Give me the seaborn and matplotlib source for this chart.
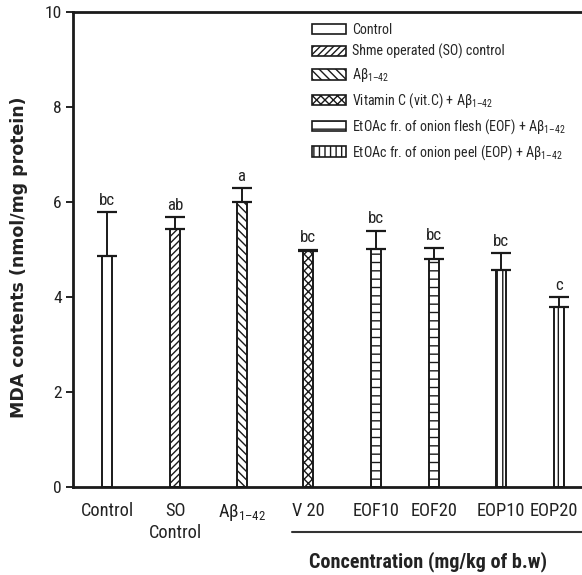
import matplotlib
matplotlib.use("Agg")
import matplotlib.pyplot as plt
import matplotlib.transforms as mtransforms
from matplotlib import font_manager
from matplotlib.lines import Line2D
from matplotlib.patches import Patch
import numpy as np
import pandas as pd
import seaborn as sns

# ---- data -------------------------------------------------------------
ab = "Aβ$_{1\u201342}$"
groups = ["Control", "SO\nControl", ab, "V 20",
          "EOF10", "EOF20", "EOP10", "EOP20"]
mda_mean = [4.87, 5.44, 5.99, 4.96, 5.01, 4.80, 4.57, 3.78]
mda_se = [0.92, 0.25, 0.30, 0.04, 0.39, 0.24, 0.35, 0.22]
sig_letters = ["bc", "ab", "a", "bc", "bc", "bc", "bc", "c"]
legend_labels = [
    "Control",
    "Shme operated (SO) control",
    ab,
    "Vitamin C (vit.C) + " + ab,
    "EtOAc fr. of onion flesh (EOF) + " + ab,
    "EtOAc fr. of onion peel (EOP) + " + ab,
]
y_ticks = [0, 2, 4, 6, 8, 10]

# ---- layout / style ---------------------------------------------------
bar_pos = [0.53, 1.58, 2.61, 3.64, 4.69, 5.59, 6.63, 7.53]
hatches = ["", "/////", "\\\\\\\\", "xxxx", "--", "|||"]
bar_style = [0, 1, 2, 3, 4, 4, 5, 5]

sns.set_theme(style="white")

# prefer a narrow sans face when one is installed
family, stretch, narrow_found = "Liberation Sans", "normal", False
preferred = ["Liberation Sans Narrow", "Roboto Condensed", "Open Sans Condensed",
             "Noto Sans Condensed", "DejaVu Sans Condensed"]
avail = {f.name for f in font_manager.fontManager.ttflist}
for name in preferred:
    if name in avail:
        family, narrow_found = name, True
        break
if not narrow_found:
    for f in font_manager.fontManager.ttflist:
        if f.stretch in ("condensed", "semi-condensed", "extra-condensed") \
                and f.name in ("Noto Sans", "Roboto", "Open Sans", "DejaVu Sans"):
            family, stretch, narrow_found = f.name, "condensed", True
            break

plt.rcParams["font.family"] = [family, "DejaVu Sans"]
plt.rcParams["font.stretch"] = stretch
plt.rcParams["mathtext.fontset"] = "custom"
plt.rcParams["mathtext.rm"] = family
plt.rcParams["mathtext.it"] = family
plt.rcParams["hatch.linewidth"] = 1.0
plt.rcParams["hatch.color"] = "#222222"

k = 1.15 if narrow_found else 1.0   # narrow faces can run a little larger
fs_tick = 11.5 * k
fs_leg = 8.8 * k
fs_sig = 10.5 * k
fs_conc = 12.6 * k

fig = plt.figure(figsize=(5.82, 5.75), dpi=100)
ax = fig.add_axes([73 / 582, 1 - 487 / 575, 1 - 73 / 582, (487 - 12) / 575])

df = pd.DataFrame({"pos": bar_pos, "mean": mda_mean})
min_gap = np.min(np.diff(bar_pos))
sns.barplot(data=df, x="pos", y="mean", native_scale=True, width=0.155 / min_gap,
            color="white", edgecolor="#1a1a1a", linewidth=1.4, errorbar=None,
            saturation=1, ax=ax)
for patch, s in zip(ax.patches, bar_style):
    patch.set_hatch(hatches[s])
    patch.set_facecolor("white")

ax.errorbar(bar_pos, mda_mean, yerr=[np.zeros(len(mda_se)), mda_se], fmt="none",
            ecolor="#1a1a1a", elinewidth=1.4, capsize=7, capthick=1.6, zorder=3)

for x, m, e, t in zip(bar_pos, mda_mean, mda_se, sig_letters):
    ax.annotate(t, (x, m + e), xytext=(0, 3), textcoords="offset points",
                ha="center", va="bottom", fontsize=fs_sig, color="#222222")

ax.set_xlim(0, 509 / 64.6)
ax.set_ylim(0, 10)
ax.set_yticks(y_ticks)
ax.set_yticklabels([str(v) for v in y_ticks], fontsize=fs_tick * 0.95)
ax.set_xticks(bar_pos)
ax.set_xticklabels(groups, fontsize=fs_tick, linespacing=1.3)
ax.tick_params(axis="x", length=0, pad=11, colors="#222222")
ax.tick_params(axis="y", direction="out", length=5, width=1.4, pad=3,
               colors="#222222", left=True)
# the last label sits against the right edge; nudge it inward a little
last = ax.get_xticklabels()[-1]
last.set_transform(last.get_transform() +
                   mtransforms.ScaledTranslation(-4 / 72, 0, fig.dpi_scale_trans))
ax.set_xlabel("")
ax.set_ylabel("")
for side in ["left", "bottom", "top"]:
    ax.spines[side].set_linewidth(2.0)
    ax.spines[side].set_color("#1a1a1a")
ax.spines["right"].set_visible(False)

fig.text(19 / 582, 1 - 257 / 575, "MDA contents (nmol/mg protein)", rotation=90,
         ha="center", va="center", fontsize=12.5, fontweight="bold",
         family="DejaVu Sans", color="#222222")

fig.add_artist(Line2D([292 / 582, 1.0], [1 - 532 / 575] * 2, color="#333333",
                      lw=1.5, transform=fig.transFigure))
fig.text(428 / 582, 1 - 562 / 575, "Concentration (mg/kg of b.w)", ha="center",
         va="center", fontsize=fs_conc, fontweight="bold", color="#222222")

handles = [Patch(facecolor="white", edgecolor="#1a1a1a", hatch=hatches[i], lw=1.2)
           for i in range(len(legend_labels))]
fig.legend(handles, legend_labels, loc="upper left",
           bbox_to_anchor=(312 / 582, 1 - 23 / 575), frameon=False, fontsize=fs_leg,
           handlelength=2.4, handleheight=0.75, handletextpad=0.45,
           labelspacing=0.5, borderpad=0, borderaxespad=0)

fig.savefig("out.png", dpi=100)
